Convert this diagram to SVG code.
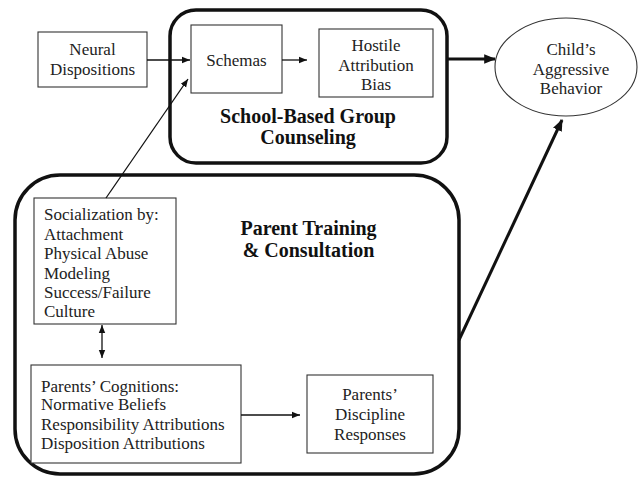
<svg xmlns="http://www.w3.org/2000/svg" width="638" height="477" viewBox="0 0 638 477">
<defs>
<style>
text{font-family:"Liberation Serif","Times New Roman",serif;font-size:17px;fill:#222}
.c{text-anchor:middle}
.b{font-weight:bold;font-size:20px;fill:#111}
.box{fill:#fff;stroke:#333;stroke-width:1.1}
.grp{fill:none;stroke:#111;stroke-width:3.5}
.ln{stroke:#111;stroke-width:1.3;fill:none}
.thk{stroke:#111;stroke-width:3;fill:none}
</style>
<marker id="a" viewBox="0 0 10 10" refX="10" refY="5" markerWidth="8" markerHeight="8" markerUnits="userSpaceOnUse" orient="auto-start-reverse"><path d="M0,1 L10,5 L0,9 z" fill="#111"/></marker>
<marker id="at" viewBox="0 0 10 10" refX="9" refY="5" markerWidth="12" markerHeight="12" markerUnits="userSpaceOnUse" orient="auto"><path d="M0,1 L10,5 L0,9 z" fill="#111"/></marker>
</defs>
<rect width="638" height="477" fill="#fff"/>
<g id="school-group">
<rect class="grp" x="170" y="10" width="277" height="153" rx="26"/>
<text class="c b" x="308" y="123">School-Based Group</text>
<text class="c b" x="308" y="144">Counseling</text>
</g>
<g id="parent-group">
<rect class="grp" x="15" y="175" width="444" height="299" rx="45"/>
<text class="c b" x="308.5" y="235">Parent Training</text>
<text class="c b" x="308.5" y="257">&amp; Consultation</text>
</g>
<g id="neural">
<rect class="box" x="38" y="32" width="109" height="55"/>
<text class="c" x="92.5" y="55">Neural</text>
<text class="c" x="92.5" y="75">Dispositions</text>
</g>
<g id="schemas">
<rect class="box" x="191" y="25" width="91" height="68"/>
<text class="c" x="236.5" y="66">Schemas</text>
</g>
<g id="hostile">
<rect class="box" x="319" y="29" width="114" height="68"/>
<text class="c" x="376" y="51">Hostile</text>
<text class="c" x="376" y="71">Attribution</text>
<text class="c" x="376" y="90">Bias</text>
</g>
<g id="child">
<ellipse cx="566" cy="67" rx="71" ry="49" fill="#fff" stroke="#333" stroke-width="1.1"/>
<text class="c" x="571" y="55">Child’s</text>
<text class="c" x="571" y="75">Aggressive</text>
<text class="c" x="571" y="94">Behavior</text>
</g>
<g id="socialization">
<rect class="box" x="34" y="198" width="142" height="126"/>
<text x="44" y="220">Socialization by:</text>
<text x="44" y="240">Attachment</text>
<text x="44" y="259">Physical Abuse</text>
<text x="44" y="279">Modeling</text>
<text x="44" y="298">Success/Failure</text>
<text x="44" y="317">Culture</text>
</g>
<g id="cognitions">
<rect class="box" x="31" y="365" width="210" height="98"/>
<text x="41" y="392">Parents’ Cognitions:</text>
<text x="41" y="410">Normative Beliefs</text>
<text x="41" y="430">Responsibility Attributions</text>
<text x="41" y="449">Disposition Attributions</text>
</g>
<g id="discipline">
<rect class="box" x="307" y="375" width="126" height="78"/>
<text class="c" x="370" y="400">Parents’</text>
<text class="c" x="370" y="420">Discipline</text>
<text class="c" x="370" y="440">Responses</text>
</g>
<g id="connectors">
<line class="ln" x1="147" y1="60" x2="190" y2="60" marker-end="url(#a)"/>
<line class="ln" x1="282" y1="60" x2="307" y2="60" marker-end="url(#a)"/>
<line class="ln" x1="106" y1="198" x2="188" y2="79" marker-end="url(#a)"/>
<line class="thk" x1="447" y1="59" x2="495" y2="59" marker-end="url(#at)"/>
<line class="thk" x1="459" y1="340" x2="562" y2="120" marker-end="url(#at)"/>
<line class="ln" x1="102" y1="325" x2="102" y2="358" marker-start="url(#a)" marker-end="url(#a)"/>
<line class="ln" x1="241" y1="415" x2="300" y2="415" marker-end="url(#a)"/>
</g>
</svg>
